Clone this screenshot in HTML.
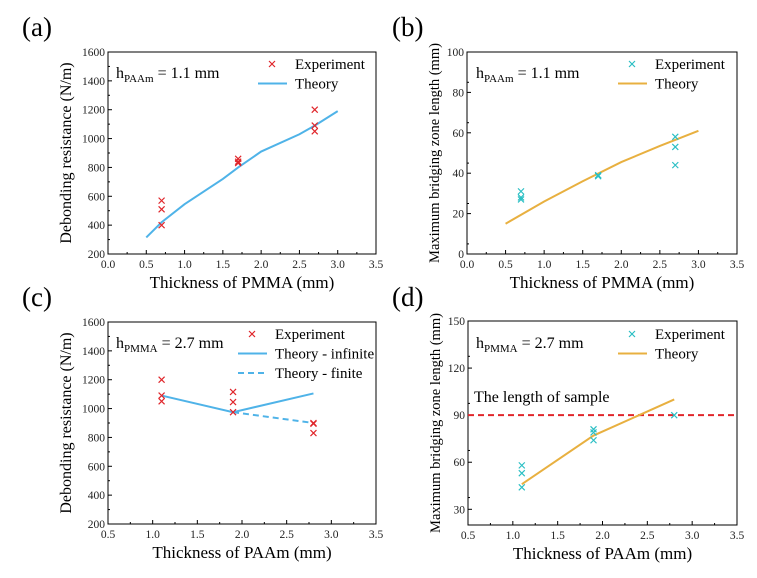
<!DOCTYPE html>
<html><head><meta charset="utf-8"><style>
body{margin:0;background:#fff;}
svg{display:block;font-family:"Liberation Serif",serif;}
</style></head><body>
<svg id="chart" width="757" height="578" viewBox="0 0 757 578"></svg>
<script>
// Panel (a)
const aExpX=[0.7,0.7,0.7,1.7,1.7,1.7,2.7,2.7,2.7];
const aExpY=[570,510,400,860,840,830,1200,1090,1050];
const aThX=[0.5,0.7,1.0,1.5,1.7,2.0,2.5,2.7,3.0];
const aThY=[315,420,545,720,800,910,1030,1090,1190];
// Panel (b)
const bExpX=[0.7,0.7,0.7,1.7,1.7,2.7,2.7,2.7];
const bExpY=[31,28,27,39,38.5,58,53,44];
const bThX=[0.5,1.0,1.5,2.0,2.5,3.0];
const bThY=[15,26,36,45.5,53.5,61];
// Panel (c)
const cExpX=[1.1,1.1,1.1,1.9,1.9,1.9,2.8,2.8,2.8];
const cExpY=[1200,1090,1050,1115,1045,975,900,895,830];
const cInfX=[1.1,1.9,2.8];
const cInfY=[1090,975,1105];
const cFinX=[1.9,2.8];
const cFinY=[975,900];
// Panel (d)
const dExpX=[1.1,1.1,1.1,1.9,1.9,1.9,2.8];
const dExpY=[58,53,44,81,79,74,90];
const dThX=[1.1,1.9,2.8];
const dThY=[46,77,100];
const dSampleLen=[90];
// ticks
const xTicksA=['0.0','0.5','1.0','1.5','2.0','2.5','3.0','3.5'];
const xTicksC=['0.5','1.0','1.5','2.0','2.5','3.0','3.5'];
const yTicksRes=['200','400','600','800','1000','1200','1400','1600'];
const yTicksB=['0','20','40','60','80','100'];
const yTicksD=['30','60','90','120','150'];

const svg=document.getElementById('chart');
const NS='http://www.w3.org/2000/svg';
function mk(tag,attrs,parent,text){const e=document.createElementNS(NS,tag);for(const k in attrs)e.setAttribute(k,attrs[k]);if(text!==undefined)e.textContent=text;(parent||svg).appendChild(e);return e;}

function panel(id,L,T,R,B,x0,x1,y0,y1,xt,yt,xstep,ystep,ytitle,xtitle,yoff,yfs){
  const g=mk('g',{});
  
  
  const sx=v=>L+(v-x0)/(x1-x0)*(R-L);
  const sy=v=>B-(v-y0)/(y1-y0)*(B-T);
  const fr=mk('rect',{x:L,y:T,width:R-L,height:B-T,fill:'none',stroke:'#000','stroke-width':1},g);
  
  
  xt.forEach((t,i)=>{const v=parseFloat(t);const x=sx(v);
    mk('line',{x1:x,x2:x,y1:B,y2:B-4,stroke:'#000'},g);
    if(i<xt.length-1){const xm=sx(v+xstep/2);mk('line',{x1:xm,x2:xm,y1:B,y2:B-2,stroke:'#000'},g);}
    const tx=mk('text',{x:x,y:B+14,'font-size':11.5,'text-anchor':'middle',fill:'#222'},g,t);
    
    
  });
  yt.forEach((t,i)=>{const v=parseFloat(t);const y=sy(v);
    mk('line',{x1:L,x2:L+4,y1:y,y2:y,stroke:'#000'},g);
    if(i<yt.length-1){const ym=sy(v+ystep/2);mk('line',{x1:L,x2:L+2,y1:ym,y2:ym,stroke:'#000'},g);}
    const tx=mk('text',{x:L-3,y:y+4,'font-size':11.5,'text-anchor':'end',fill:'#222'},g,t);
    
    
  });
  const xl=mk('text',{x:(L+R)/2,y:B+34,'font-size':17,'text-anchor':'middle'},g,xtitle);
  
  
  const yl=mk('text',{x:0,y:0,'font-size':yfs,'text-anchor':'middle',transform:`translate(${L-yoff},${(T+B)/2}) rotate(-90)`},g,ytitle);
  
  
  return {g,sx,sy};
}
function crosses(p,xs,ys,col){xs.forEach((x,i)=>{const cx=p.sx(x),cy=p.sy(ys[i]);
  const e=mk('path',{d:`M${cx-3},${cy-3}L${cx+3},${cy+3}M${cx-3},${cy+3}L${cx+3},${cy-3}`,stroke:col,'stroke-width':1.2,fill:'none'},p.g);
  
  });}
function line(p,xs,ys,col,dash,name){const d=xs.map((x,i)=>(i?'L':'M')+p.sx(x)+','+p.sy(ys[i])).join('');
  const e=mk('path',{d:d,stroke:col,'stroke-width':2,fill:'none','stroke-dasharray':dash||'none'},p.g);
  
  }
function label(txt,x,y){const e=mk('text',{x:x,y:y,'font-size':27},svg,txt);
  
  }
function annot(p,x,y,sub,val){const e=mk('text',{x:x,y:y,'font-size':16},p.g);
  mk('tspan',{},e,'h');mk('tspan',{'font-size':11,dy:4},e,sub);mk('tspan',{dy:-4},e,' = '+val);
  
  }
function legend(p,items,x,y){items.forEach((it,i)=>{const yy=y+i*19.5;
  if(it.type==='x'){mk('path',{d:`M${x+11},${yy-3}L${x+17},${yy+3}M${x+11},${yy+3}L${x+17},${yy-3}`,stroke:it.col,'stroke-width':1.2},p.g);}
  else mk('line',{x1:x,x2:x+29,y1:yy,y2:yy,stroke:it.col,'stroke-width':2,'stroke-dasharray':it.dash||'none'},p.g);
  const t=mk('text',{x:x+37,y:yy+5,'font-size':15},p.g,it.t);
  
  });}

const red='#e0262b',blue='#4fb3e8',cyan='#2bbfc4',orange='#e8b040';
// (a)
const pa=panel('a',108,52,376,254,0,3.5,200,1600,xTicksA,yTicksRes,0.5,200,'Debonding resistance (N/m)','Thickness of PMMA (mm)',37,16);
line(pa,aThX,aThY,blue,null,'theory-line');
crosses(pa,aExpX,aExpY,red);
annot(pa,116,78,'PAAm','1.1 mm');
legend(pa,[{type:'x',col:red,t:'Experiment'},{type:'l',col:blue,t:'Theory'}],258,64);
label('(a)',22,36);
// (b)
const pb=panel('b',467,52,737,254,0,3.5,0,100,xTicksA,yTicksB,0.5,10,'Maximum bridging zone length (mm)','Thickness of PMMA (mm)',28,14.5);
line(pb,bThX,bThY,orange,null,'theory-line');
crosses(pb,bExpX,bExpY,cyan);
annot(pb,476,78,'PAAm','1.1 mm');
legend(pb,[{type:'x',col:cyan,t:'Experiment'},{type:'l',col:orange,t:'Theory'}],618,64);
label('(b)',392,36);
// (c)
const pc=panel('c',108,322,376,524,0.5,3.5,200,1600,xTicksC,yTicksRes,0.5,200,'Debonding resistance (N/m)','Thickness of PAAm (mm)',37,16);
line(pc,cInfX,cInfY,blue,null,'theory-infinite-line');
line(pc,cFinX,cFinY,blue,'6,4','theory-finite-line');
crosses(pc,cExpX,cExpY,red);
annot(pc,116,348,'PMMA','2.7 mm');
legend(pc,[{type:'x',col:red,t:'Experiment'},{type:'l',col:blue,t:'Theory - infinite'},{type:'l',col:blue,dash:'6,4',t:'Theory - finite'}],238,334);
label('(c)',22,306);
// (d)
const pd=panel('d',468,321,737,525,0.5,3.5,20,150,xTicksC,yTicksD,0.5,15,'Maximum bridging zone length (mm)','Thickness of PAAm (mm)',28,14.5);
line(pd,[0.5,3.5],[dSampleLen[0],dSampleLen[0]],red,'6,4','sample-length-line');
line(pd,dThX,dThY,orange,null,'theory-line');
crosses(pd,dExpX,dExpY,cyan);
annot(pd,476,348,'PMMA','2.7 mm');
const sl=mk('text',{x:474,y:402,'font-size':16},pd.g,'The length of sample');


legend(pd,[{type:'x',col:cyan,t:'Experiment'},{type:'l',col:orange,t:'Theory'}],618,334);
label('(d)',392,306);
</script>
</body></html>
